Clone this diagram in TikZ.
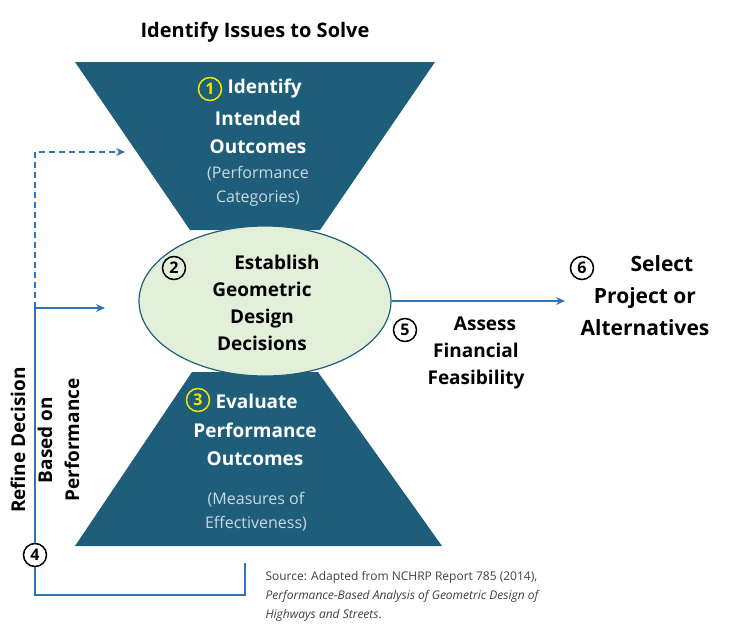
\documentclass[tikz,border=0pt]{standalone}
\usepackage{fontspec}
\setmainfont{Open Sans}
\usetikzlibrary{arrows.meta,shapes.geometric}
\definecolor{teal}{HTML}{1F5E7A}
\definecolor{lgreen}{HTML}{E2F0D9}
\definecolor{subt}{HTML}{C9D9E3}
\definecolor{yel}{HTML}{F2E600}
\definecolor{line}{HTML}{2E75B6}
\begin{document}
\begin{tikzpicture}[x=1pt,y=-1pt,
  wt/.style={text=white,font=\bfseries\fontsize{19}{28}\selectfont,align=center},
  st/.style={text=subt,font=\fontsize{16}{24}\selectfont,align=center},
  bt/.style={font=\bfseries\fontsize{19}{27}\selectfont,align=center},
  num/.style={circle,draw,line width=1.5pt,inner sep=0pt,minimum size=23pt,font=\bfseries\fontsize{16}{16}\selectfont},
  ynum/.style={num,draw=yel,text=yel},
  con/.style={line,line width=1.3pt},
  arr/.style={con,-{Stealth[length=9pt,width=8pt]}}]
\useasboundingbox (0,0) rectangle (731,640);
\node[bt,font=\bfseries\fontsize{20}{26}\selectfont] (title) at (255,32) {Identify Issues to Solve};
\path[fill=teal] (75,62) -- (435,62) -- (320,230) -- (190,230) -- cycle;
\path[fill=teal] (192,372) -- (318,372) -- (442,546) -- (75,546) -- cycle;
\node[ellipse,draw=teal,line width=1.2pt,fill=lgreen,minimum width=252pt,minimum height=150pt] (ell) at (265,301) {};
\node[ynum] (n1) at (210,89) {1};
\node[wt,anchor=west] (t1a) at (224,89) {Identify};
\node[wt] (t1b) at (258,132) {Intended\\Outcomes};
\node[st] (t1c) at (258,186) {(Performance\\Categories)};
\node[num] (n2) at (174,268) {2};
\node[bt,anchor=north] (t2) at (262,252) {\hspace*{30pt}Establish\\Geometric\\Design\\Decisions};
\node[ynum] (n3) at (198,400) {3};
\node[wt,anchor=west] (t3a) at (212,401) {Evaluate};
\node[wt] (t3b) at (255,444) {Performance\\Outcomes};
\node[st] (t3c) at (256,512) {(Measures of\\Effectiveness)};
\node[num] (n4) at (35,555) {4};
\node[num] (n5) at (405,330) {5};
\node[bt,anchor=north] (t5) at (476,313) {\hspace*{18pt}Assess\\Financial\\Feasibility};
\node[num] (n6) at (582,268) {6};
\node[bt,font=\bfseries\fontsize{21}{32}\selectfont,anchor=north] (t6) at (645,252) {\hspace*{34pt}Select\\Project or\\Alternatives};
\node[bt,rotate=90] (rv) at (45,440) {Refine Decision\\Based on\\Performance};
\coordinate (c1) at (245,563);
\coordinate (c2) at (245,595);
\coordinate (c3) at (35,595);
\coordinate (c4) at (35,308);
\coordinate (c5) at (35,152);
\coordinate (c6) at (125,152);
\coordinate (c7) at (105,308);
\coordinate (c8) at (565,308);
\draw[con] (c1) -- (c2) -- (c3) -- (n4);
\draw[arr] (n4) -- (c4) -- (c7);
\draw[arr,dashed,dash pattern=on 6pt off 4pt] (c4) -- (c5) -- (c6);
\draw[arr] (ell.east) -- (ell.east -| c8);
\node[anchor=north west,align=left,font=\fontsize{12}{19}\selectfont,text=black!75] (src) at (262,568) {Source: Adapted from NCHRP Report 785 (2014),\\\textit{Performance-Based Analysis of Geometric Design of}\\\textit{Highways and Streets}.};
\end{tikzpicture}
\end{document}
